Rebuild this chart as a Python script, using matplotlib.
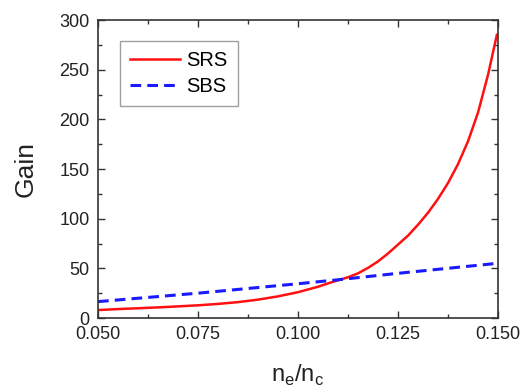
import matplotlib
matplotlib.use('Agg')
import matplotlib.pyplot as plt
from matplotlib.ticker import MultipleLocator

# data
srs_x = [0.050, 0.055, 0.060, 0.065, 0.070, 0.075, 0.080, 0.085, 0.090, 0.095,
         0.100, 0.105, 0.108, 0.110, 0.1125, 0.115, 0.1175, 0.120, 0.1225, 0.125,
         0.1275, 0.130, 0.1325, 0.135, 0.1375, 0.140, 0.1425, 0.145, 0.1475, 0.1497]
srs_gain = [8, 9, 9.8, 10.7, 11.7, 12.8, 14.2, 16, 18.5, 21.8,
            26, 31.5, 35.5, 38, 41, 45, 50.5, 57, 65, 74,
            83, 94, 106, 120, 136, 155, 178, 207, 245, 285]

sbs_x = [0.050, 0.075, 0.100, 0.110, 0.125, 0.1497]
sbs_gain = [16.5, 25, 34.5, 38.5, 45, 55]

x_ticks = [0.050, 0.075, 0.100, 0.125, 0.150]
y_ticks = [0, 50, 100, 150, 200, 250, 300]

plt.rcParams['font.family'] = ['Liberation Sans', 'DejaVu Sans']

fig = plt.figure(figsize=(5.25, 3.85), dpi=100)
ax = fig.add_axes([0.1867, 0.174, 0.762, 0.774])

# curves
ax.plot(srs_x, srs_gain, color='#ff1010', lw=1.8, label='SRS')
ax.plot(sbs_x, sbs_gain, color='#1a1aff', lw=2.2, ls=(0, (3.5, 2)), label='SBS')

# axes, ticks in on all four sides
ax.set_xlim(0.05, 0.15)
ax.set_ylim(0, 300)
ax.set_xticks(x_ticks)
ax.set_xticklabels(['%.3f' % t for t in x_ticks])
ax.set_yticks(y_ticks)
ax.xaxis.set_minor_locator(MultipleLocator(0.0125))
ax.yaxis.set_minor_locator(MultipleLocator(25))
ax.tick_params(which='both', direction='in', top=True, right=True,
               color='#333333', labelcolor='#222222', labelsize=13, pad=6)
ax.tick_params(which='major', length=5, width=1)
ax.tick_params(which='minor', length=3, width=1)
for s in ax.spines.values():
    s.set_color('#333333')
    s.set_linewidth(1.2)

ax.set_ylabel('Gain', fontsize=19, color='#222222', labelpad=16)
ax.set_xlabel('n$_\\mathregular{e}$/n$_\\mathregular{c}$', fontsize=17,
              color='#222222', labelpad=14)

# legend box
leg = ax.legend(loc='upper left', bbox_to_anchor=(0.055, 0.93), fontsize=14.5,
                fancybox=False, frameon=True, handlelength=2.5, borderaxespad=0,
                borderpad=0.5, labelspacing=0.35, handletextpad=0.3)
leg.get_frame().set_edgecolor('#888888')
leg.get_frame().set_linewidth(1.0)

fig.savefig('out.png', dpi=100)
